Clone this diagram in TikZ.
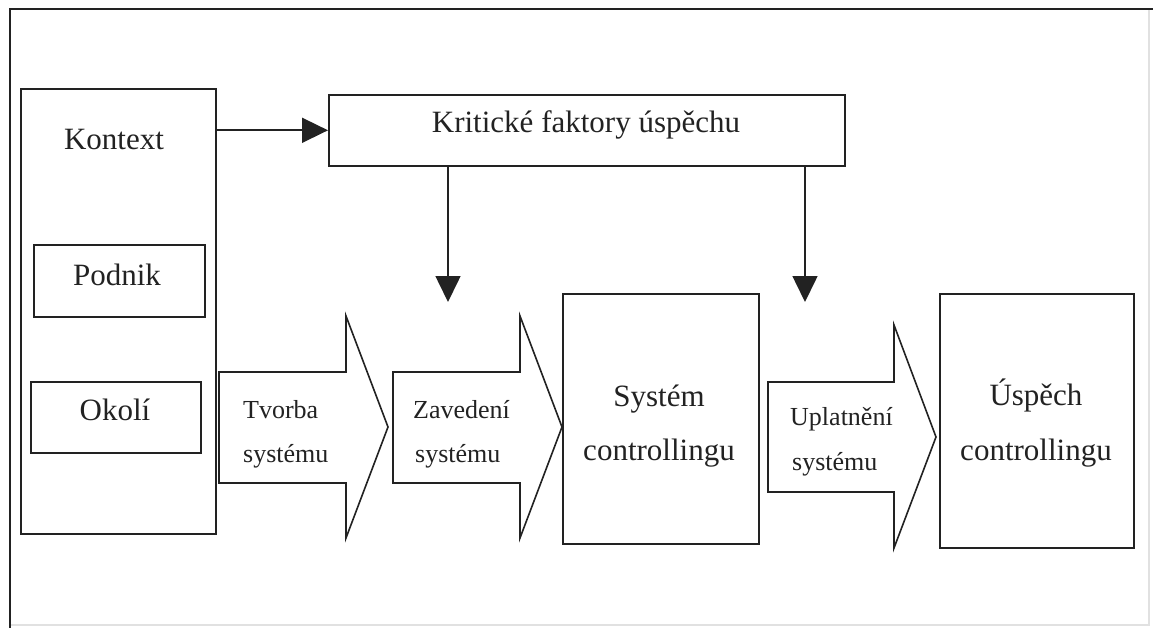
\documentclass[tikz,border=0pt]{standalone}
\usepackage{fontspec}
\setmainfont{Liberation Serif}
\usetikzlibrary{arrows.meta}
\definecolor{lc}{RGB}{34,34,34}
\definecolor{faint}{RGB}{225,225,225}
\begin{document}
\begin{tikzpicture}[x=1pt,y=-1pt,
  box/.style={draw=lc,line width=1.6pt,inner sep=0pt,anchor=north west},
  big/.style={font=\fontsize{31}{31}\selectfont,inner sep=0pt,anchor=base,text=lc},
  small/.style={font=\fontsize{26}{26}\selectfont,inner sep=0pt,anchor=base west,text=lc},
  conn/.style={draw=lc,line width=1.6pt,-{Triangle[length=26pt,width=25pt]}},
  blockarrow/.style={draw=lc,line width=1.6pt,line join=miter}]
\fill[white] (0,0) rectangle (1153,628);
\useasboundingbox (0,0) rectangle (1153,628);
% outer frame
\draw[faint,line width=1.2pt] (1149,9) -- (1149,625) -- (10,625);
\draw[lc,line width=1.6pt] (10,628) -- (10,9) -- (1153,9);
% boxes
\node[box,minimum width=195pt,minimum height=445pt] (kontext) at (20,88) {};
\node[box,minimum width=171pt,minimum height=72pt] (podnik) at (33,244) {};
\node[box,minimum width=170pt,minimum height=71pt] (okoli) at (30,381) {};
\node[box,minimum width=516pt,minimum height=71pt] (krit) at (328,94) {};
\node[box,minimum width=196pt,minimum height=250pt] (system) at (562,293) {};
\node[box,minimum width=194pt,minimum height=254pt] (uspech) at (939,293) {};
% texts in boxes
\node[big] (kontextT) at (114,150) {Kontext};
\node[big] (podnikT) at (117,285) {Podnik};
\node[big] (okoliT) at (115,420) {Okolí};
\node[big] (kritT) at (586,133) {Kritické faktory úspěchu};
\node[big] (systemT1) at (659,406) {Systém};
\node[big] (systemT2) at (659,460) {controllingu};
\node[big] (uspechT1) at (1036,405) {Úspěch};
\node[big] (uspechT2) at (1036,460) {controllingu};
% block arrows
\draw[blockarrow] (219,372) -- (346,372) -- (346,316) -- (388,427) -- (346,538) -- (346,483) -- (219,483) -- cycle;
\draw[blockarrow] (393,372) -- (520,372) -- (520,316) -- (562,427) -- (520,538) -- (520,483) -- (393,483) -- cycle;
\draw[blockarrow] (768,382) -- (894,382) -- (894,325) -- (936,437) -- (894,548) -- (894,492) -- (768,492) -- cycle;
\node[small] (tvorba1) at (243,418) {Tvorba};
\node[small] (tvorba2) at (243,462) {systému};
\node[small] (zaved1) at (413,418) {Zavedení};
\node[small] (zaved2) at (415,462) {systému};
\node[small] (uplat1) at (790,425) {Uplatnění};
\node[small] (uplat2) at (792,470) {systému};
% connectors
\coordinate (d1) at (448,302);
\coordinate (d2) at (805,302);
\draw[conn] (kontext.east |- krit.west) -- (krit.west);
\draw[conn] (krit.south -| d1) -- (d1);
\draw[conn] (krit.south -| d2) -- (d2);
\end{tikzpicture}
\end{document}
